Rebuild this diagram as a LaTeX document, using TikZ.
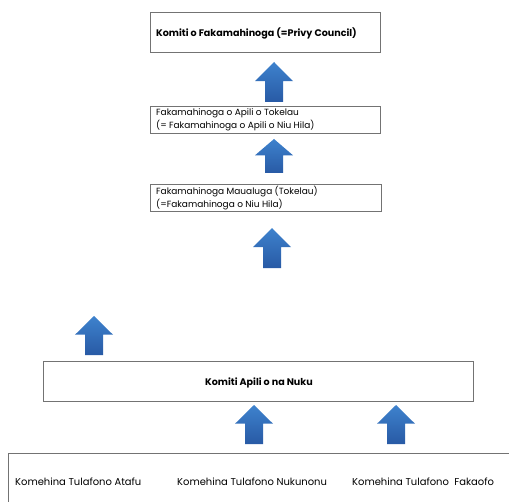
\documentclass[tikz,border=0pt]{standalone}
\usepackage{fontspec}
\setmainfont{Poppins}
\begin{document}
\begin{tikzpicture}[x=1bp,y=-1bp,
  boxstyle/.style={draw=black!55, line width=0.9pt, fill=white},
  lbl/.style={font=\fontsize{9}{13.5}\selectfont, inner sep=0pt, anchor=west, align=left},
  biglbl/.style={font=\fontsize{10}{12}\selectfont, inner sep=0pt, anchor=west},
  blabel/.style={font=\fontsize{9.6}{12}\selectfont\bfseries, inner sep=0pt}
]
\useasboundingbox (0,0) rectangle (509,502);
\newcommand\blockarrow[4]{% name, cx, top, bottom
  \pgfmathsetmacro\hb{#3+0.48*(#4-#3)}%
  \shade[top color={rgb,255:red,62;green,130;blue,205}, bottom color={rgb,255:red,40;green,90;blue,165}]
    (#2,#3) -- (#2+19,\hb) -- (#2+9,\hb) -- (#2+9,#4) -- (#2-9,#4) -- (#2-9,\hb) -- (#2-19,\hb) -- cycle;
  \coordinate (#1) at (#2,#3);}

% boxes
\draw[boxstyle] (150,12) rectangle (380,52);
\node[blabel, anchor=west] (b1) at (156,33) {Komiti o Fakamahinoga (=Privy Council)};

\draw[boxstyle] (150,106) rectangle (380,133);
\node[lbl] (b2) at (156,120) {Fakamahinoga o Apili o Tokelau\\(= Fakamahinoga o Apili o Niu Hila)};

\draw[boxstyle] (150,184) rectangle (381,211);
\node[lbl] (b3) at (156,198) {Fakamahinoga Maualuga (Tokelau)\\(=Fakamahinoga o Niu Hila)};

\draw[boxstyle] (43,361) rectangle (473,401);
\node[blabel] (b4) at (259,383) {Komiti Apili o na Nuku};

\draw[boxstyle] (8,453) rectangle (530,530);
\node[biglbl] (c1) at (15,482) {Komehina Tulafono Atafu};
\node[biglbl] (c2) at (177,482) {Komehina Tulafono Nukunonu};
\node[biglbl] (c3) at (352,482) {Komehina Tulafono \ Fakaofo};

% arrows
\blockarrow{a1}{274}{62}{102}
\blockarrow{a2}{274}{139}{173}
\blockarrow{a3}{272}{228}{268}
\blockarrow{a4}{94}{316}{355}
\blockarrow{a5}{254}{405}{444}
\blockarrow{a6}{396}{405}{444}
\end{tikzpicture}
\end{document}
